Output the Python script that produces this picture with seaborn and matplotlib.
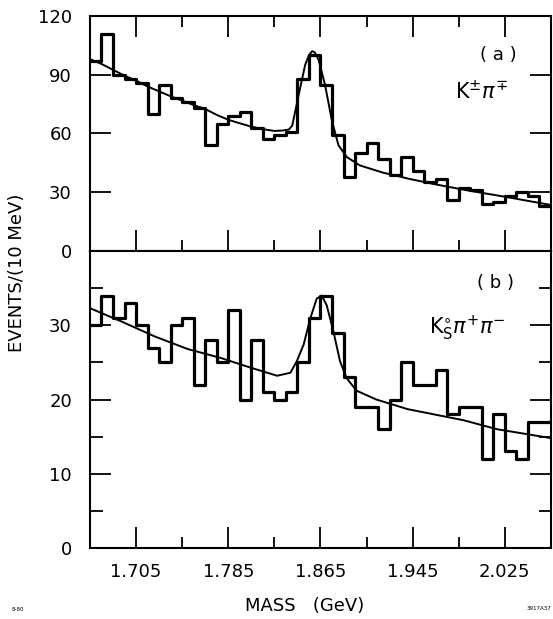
import numpy as np
import pandas as pd
import matplotlib
matplotlib.use("Agg")
import matplotlib.pyplot as plt
import seaborn as sns
from matplotlib.ticker import FixedLocator

sns.set_theme(style="ticks", rc={"text.color": "black", "axes.labelcolor": "black",
                                 "xtick.color": "black", "ytick.color": "black",
                                 "axes.edgecolor": "black"})
plt.rcParams['font.family'] = ['DejaVu Sans']

# ---------------- data ----------------
MASS_START = 1.665     # GeV, lower edge of the first bin
BIN_WIDTH = 0.010      # GeV (10 MeV bins)
N_BINS = 40

# (a) K+- pi-+  events / 10 MeV
counts_a = [97, 111, 90, 88, 86, 70, 85, 78, 76, 73,
            54, 65, 69, 71, 63, 57, 59, 61, 88, 100,
            85, 59, 38, 50, 55, 47, 39, 48, 41, 35,
            37, 26, 32, 31, 24, 25, 28, 30, 28, 23]

# (b) K0s pi+ pi-  events / 10 MeV
counts_b = [30, 34, 31, 33, 30, 27, 25, 30, 31, 22,
            28, 25, 32, 20, 28, 21, 20, 21, 25, 31,
            34, 29, 23, 19, 19, 16, 20, 25, 22, 22,
            24, 18, 19, 19, 12, 18, 13, 12, 17, 17]

# fitted curves
fit_a_mass = [1.665, 1.675, 1.685, 1.695, 1.705, 1.715, 1.725, 1.735, 1.745,
              1.755, 1.765, 1.775, 1.785, 1.795, 1.805, 1.815, 1.825, 1.832,
              1.8375, 1.8405, 1.8462, 1.8517, 1.855, 1.8577, 1.860, 1.8634,
              1.8689, 1.8749, 1.8806, 1.8878, 1.8992, 1.9192, 1.932, 1.9407,
              1.965, 1.992, 2.027, 2.065]
fit_a_value = [98, 95.5, 92.5, 89.5, 87, 84, 81.5, 79, 76.8,
               74.5, 72.5, 69.5, 67, 65.2, 63.5, 62.2, 61.3, 61.5,
               62, 64, 80, 95, 100, 102, 101.5, 97.5,
               85, 66.7, 54, 48, 43.7, 40, 38.3, 37,
               34, 31, 27.5, 23.5]

fit_b_mass = [1.665, 1.6924, 1.7211, 1.7497, 1.7784, 1.8042, 1.8274, 1.8389,
              1.8446, 1.8504, 1.8561, 1.8618, 1.8661, 1.8704, 1.8762, 1.8819,
              1.8876, 1.8962, 1.9134, 1.9407, 1.9894, 2.0181, 2.065]
fit_b_value = [32.3, 30.5, 28.5, 26.8, 25.6, 24.3, 23.2, 23.6,
               25.2, 27.4, 30.9, 33.6, 34, 32.7, 29.2, 25.2,
               22.9, 21.2, 20, 18.7, 17.2, 16, 14.8]

x_major_ticks = [1.705, 1.785, 1.865, 1.945, 2.025]
x_tick_labels = ["1.705", "1.785", "1.865", "1.945", "2.025"]
x_minor_ticks = [1.745, 1.825, 1.905, 1.985]
y_ticks_a = [0, 30, 60, 90, 120]
y_major_b = [0, 10, 20, 30]
y_minor_b = [5, 15, 25, 35]

# ---------------- figure ----------------
mass_lo = MASS_START
mass_hi = MASS_START + N_BINS * BIN_WIDTH
centers = MASS_START + BIN_WIDTH * (np.arange(N_BINS) + 0.5)
df_a = pd.DataFrame({"mass": centers, "events": counts_a})
df_b = pd.DataFrame({"mass": centers, "events": counts_b})

fig = plt.figure(figsize=(5.53, 6.19), dpi=100)
ax_a = fig.add_axes([0.1627, 0.5945, 0.8336, 0.3797])
ax_b = fig.add_axes([0.1627, 0.1147, 0.8336, 0.4798])

for ax, df, fm, fv in [(ax_a, df_a, fit_a_mass, fit_a_value),
                       (ax_b, df_b, fit_b_mass, fit_b_value)]:
    sns.histplot(data=df, x="mass", weights="events", bins=N_BINS,
                 binrange=(mass_lo, mass_hi),
                 element="step", fill=False, color="black", linewidth=2.3, ax=ax)
    sns.lineplot(x=fm, y=fv, color="black", linewidth=1.4, ax=ax, sort=False)
    ax.set_xlim(mass_lo, mass_hi)
    ax.set_xlabel("")
    ax.set_ylabel("")
    for s in ax.spines.values():
        s.set_visible(True)
        s.set_linewidth(1.5)
        s.set_color("black")
    ax.set_facecolor("white")
    ax.xaxis.set_major_locator(FixedLocator(x_major_ticks))
    ax.xaxis.set_minor_locator(FixedLocator(x_minor_ticks))

# top panel
ax_a.set_ylim(0, 120)
ax_a.yaxis.set_major_locator(FixedLocator(y_ticks_a))
ax_a.set_yticklabels([str(v) for v in y_ticks_a])
ax_a.tick_params(axis="x", which="both", direction="in", top=True, bottom=True,
                 labelbottom=False, width=1.3, color="black")
ax_a.tick_params(axis="x", which="major", length=15)
ax_a.tick_params(axis="x", which="minor", length=8)
ax_a.tick_params(axis="y", which="major", direction="in", left=True, right=True,
                 length=15, width=1.3, labelsize=13, pad=13, color="black")

# bottom panel
ax_b.set_ylim(0, 40)
ax_b.yaxis.set_major_locator(FixedLocator(y_major_b))
ax_b.yaxis.set_minor_locator(FixedLocator(y_minor_b))
ax_b.set_yticklabels([str(v) for v in y_major_b])
ax_b.set_xticklabels(x_tick_labels)
ax_b.tick_params(axis="x", which="both", direction="in", top=False, bottom=True,
                 width=1.3, color="black")
ax_b.tick_params(axis="x", which="major", length=15, labelsize=13, pad=11)
ax_b.tick_params(axis="x", which="minor", length=8)
ax_b.tick_params(axis="y", which="both", direction="in", left=True, right=True,
                 width=1.3, color="black")
ax_b.tick_params(axis="y", which="major", length=15, labelsize=13, pad=13)
ax_b.tick_params(axis="y", which="minor", length=9)

# annotations
ax_a.text(0.885, 0.834, "( a )", transform=ax_a.transAxes, fontsize=13,
          ha="center", va="center")
ax_a.text(0.85, 0.677, r"$\mathrm{K}^{\pm}\pi^{\mp}$", transform=ax_a.transAxes,
          fontsize=15, ha="center", va="center")
ax_b.text(0.879, 0.892, "( b )", transform=ax_b.transAxes, fontsize=13,
          ha="center", va="center")
ax_b.text(0.818, 0.741, r"$\mathrm{K}^{\circ}_{\mathrm{S}}\pi^{+}\pi^{-}$",
          transform=ax_b.transAxes, fontsize=15, ha="center", va="center")

fig.text(0.031, 0.560, "EVENTS/(10 MeV)", rotation=90, fontsize=13,
         ha="center", va="center")
fig.text(0.55, 0.021, "MASS   (GeV)", fontsize=13, ha="center", va="center")
fig.text(0.033, 0.015, "8-80", fontsize=4, ha="center", va="center")
fig.text(0.975, 0.017, "3917A37", fontsize=4, ha="center", va="center")

fig.savefig("out.png", dpi=100, facecolor="white")
